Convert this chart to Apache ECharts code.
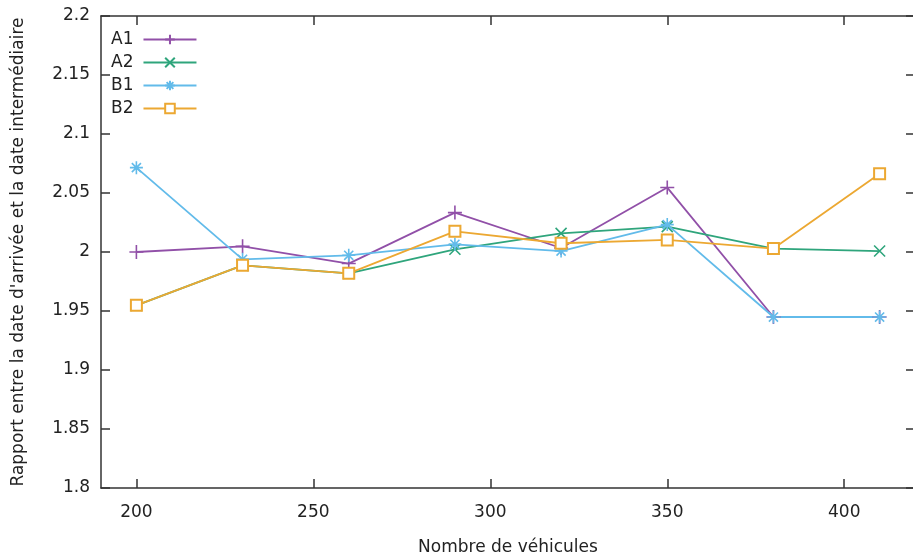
<!DOCTYPE html>
<html lang="fr">
<head>
    <meta charset="UTF-8">
    <title>Rapport entre la date d'arrivée et la date intermédiaire</title>
    <script src="https://cdn.jsdelivr.net/npm/echarts@6.0.0/dist/echarts.min.js"></script>
    <style>
        html, body { margin: 0; padding: 0; background: #fff; }
        #chart { width: 913px; height: 557px; }
    </style>
</head>
<body>
    <div id="chart"></div>
    <script>
        // données
        const vehicules = [200, 230, 260, 290, 320, 350, 380, 410];
        const xTicks = [200, 250, 300, 350, 400];
        const serieA1 = [2.000, 2.0048, 1.9902, 2.0334, 2.0034, 2.0546, 1.9449, 1.9449];
        const serieA2 = [1.9548, 1.9887, 1.9819, 2.0023, 2.0158, 2.0215, 2.0029, 2.0008];
        const serieB1 = [2.0715, 1.9938, 1.9972, 2.0065, 2.0008, 2.0232, 1.9449, 1.9449];
        const serieB2 = [1.9548, 1.9887, 1.9819, 2.0175, 2.0074, 2.0102, 2.0029, 2.0664];

        const police = 'DejaVu Sans';
        const texte = '#222';
        const cadre = { color: '#333', width: 1.5 };

        function paires(valeurs) {
            return vehicules.map((x, i) => [x, valeurs[i]]);
        }

        function serie(nom, valeurs, couleur, symbole, taille) {
            return {
                name: nom,
                type: 'line',
                data: paires(valeurs),
                symbol: symbole,
                symbolSize: taille,
                showSymbol: true,
                lineStyle: { color: couleur, width: 1.8 },
                itemStyle: { color: couleur, borderColor: couleur, borderWidth: 1.6 },
                emphasis: { disabled: true },
                animation: false
            };
        }

        const chart = echarts.init(document.getElementById('chart'));
        chart.setOption({
            backgroundColor: '#fff',
            grid: {
                left: 101, top: 16, width: 814, height: 472,
                outerBoundsMode: 'none'
            },
            legend: {
                orient: 'vertical',
                left: 111,
                top: 31,
                padding: 0,
                itemWidth: 53,
                itemHeight: 12,
                itemGap: 6,
                align: 'right',
                textStyle: { fontFamily: police, fontSize: 17, color: texte, padding: [0, 5, 0, 0] },
                data: ['A1', 'A2', 'B1', 'B2']
            },
            xAxis: [{
                type: 'value',
                min: 190, max: 420,
                name: 'Nombre de véhicules',
                nameLocation: 'middle',
                nameGap: 51,
                nameTextStyle: { fontFamily: police, fontSize: 17, color: texte },
                splitLine: { show: false },
                axisLine: { lineStyle: cadre },
                axisTick: { inside: true, length: 9, customValues: xTicks, lineStyle: cadre },
                axisLabel: { customValues: xTicks, margin: 16, fontFamily: police, fontSize: 17, color: texte }
            }, {
                type: 'value',
                position: 'top',
                min: 190, max: 420,
                splitLine: { show: false },
                axisLine: { lineStyle: cadre },
                axisTick: { inside: true, length: 9, customValues: xTicks, lineStyle: cadre },
                axisLabel: { show: false }
            }],
            yAxis: [{
                type: 'value',
                min: 1.8, max: 2.2, interval: 0.05,
                name: "Rapport entre la date d'arrivée et la date intermédiaire",
                nameLocation: 'middle',
                nameRotate: 90,
                nameGap: 74,
                nameTextStyle: { fontFamily: police, fontSize: 17, color: texte },
                splitLine: { show: false },
                axisLine: { show: true, lineStyle: cadre },
                axisTick: { show: true, inside: true, length: 9, lineStyle: cadre },
                axisLabel: {
                    margin: 11, fontFamily: police, fontSize: 17, color: texte,
                    formatter: v => String(Math.round(v * 100) / 100)
                }
            }, {
                type: 'value',
                position: 'right',
                min: 1.8, max: 2.2, interval: 0.05,
                splitLine: { show: false },
                axisLine: { show: true, lineStyle: cadre },
                axisTick: { show: true, inside: true, length: 9, lineStyle: cadre },
                axisLabel: { show: false }
            }],
            series: [
                serie('A1', serieA1, '#9150a8', 'path://M5,0 L5,10 M0,5 L10,5', 14),
                serie('A2', serieA2, '#2fa57c', 'path://M0,0 L10,10 M10,0 L0,10', 11),
                serie('B1', serieB1, '#62bbea', 'path://M5,0 L5,10 M0,5 L10,5 M1.5,1.5 L8.5,8.5 M8.5,1.5 L1.5,8.5', 13),
                serie('B2', serieB2, '#eca832', 'emptyRect', 11)
            ]
        });
    </script>
</body>
</html>
